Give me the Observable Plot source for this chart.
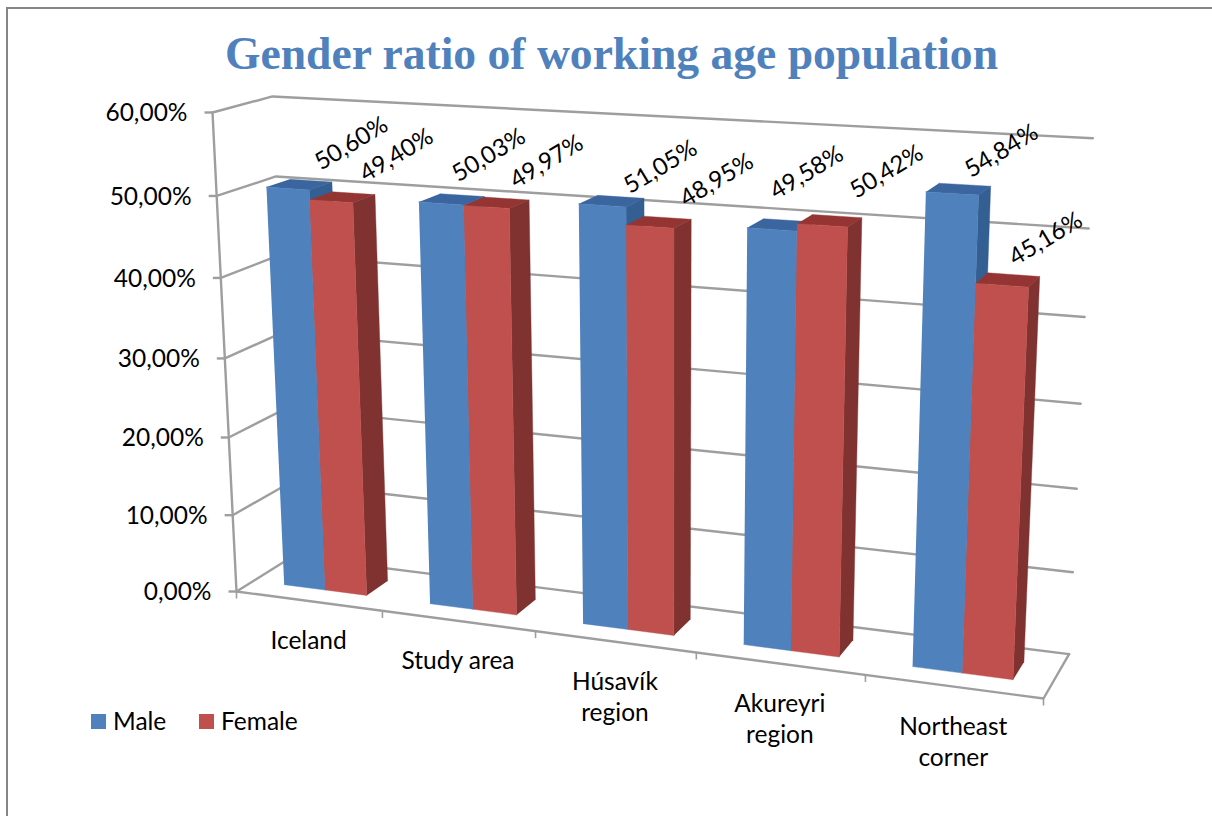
<!DOCTYPE html>
<html><head><meta charset="utf-8">
<script src="https://cdn.jsdelivr.net/npm/d3@7"></script>
<script src="https://cdn.jsdelivr.net/npm/@observablehq/plot@0.6"></script>
<style>
html,body{margin:0;padding:0;background:#fff;overflow:hidden;width:1212px;height:816px}
#frame{position:absolute;left:6px;top:7px;right:0;bottom:0;border-left:2px solid #868686;border-top:2px solid #868686;box-sizing:border-box}
#title{position:absolute;left:0;width:1223px;top:24px;text-align:center;font:bold 45.6px "Liberation Serif",serif;color:#4F81BD;line-height:60px}
#chart{position:absolute;left:0;top:84px}
#legend{position:absolute;left:91px;top:704px;font:24.5px Lato,sans-serif;color:#000;line-height:34px;height:34px;white-space:nowrap}
#legend i{position:absolute;top:10px;width:15px;height:15px}
#legend span{position:absolute;top:0}
</style></head><body>
<div id="frame"></div>
<div id="title">Gender ratio of working age population</div>
<div id="chart"></div>
<div id="legend"></div>
<script>
const categories = ["Iceland","Study area","Húsavík\nregion","Akureyri\nregion","Northeast\ncorner"];
const male = [50.60,50.03,51.05,49.58,54.84];
const female = [49.40,49.97,48.95,50.42,45.16];
const valueTicks = [0,10,20,30,40,50,60];
const seriesNames = ["Male","Female"];
const frontColors = ["#4F81BD","#C0504D"];
const sideColors = ["#335F92","#7F3230"];
const topColors = ["#3A659E","#953533"];
// hand placement of the rotated data labels, as in the original chart (male/female per category)
const labelNudgeX = [[2,4],[-13,0],[-1,8],[-23,7],[-7,-12]];
const labelNudgeY = [[1,0],[-2,1],[8,0],[-10,-7],[4,1]];

// perspective camera of the 3-D box: corners of the box on the page
const P000=[236,591],P100=[1043,698],P010=[212,112],P001=[292,556];
const wa=-0.117,wb=-0.0523,wc=0.043;
function project(u,value,d){
  const v=value/60, w=1+wa*u+wb*v+wc*d;
  const f=i=>(P000[i]+u*((1+wa)*P100[i]-P000[i])+v*((1+wb)*P010[i]-P000[i])+d*((1+wc)*P001[i]-P000[i]))/w;
  return [f(0),f(1)];
}
const n=categories.length, catW=1/n, gap=1.5, barW=catW/(2+gap), depth0=0.3, depth1=0.7;

const polys=[];
function poly(id,color,pts){pts.forEach(p=>{const [x,y]=project(...p);polys.push({id,color,x,y});});}
categories.forEach((c,i)=>{
  [male[i],female[i]].forEach((val,s)=>{
    const a=i*catW+catW*gap/(2+gap)/2+s*barW, b=a+barW;
    const id=i+"-"+s;
    poly(id+"t",topColors[s],[[a,val,depth0],[b,val,depth0],[b,val,depth1],[a,val,depth1]]);
    poly(id+"s",sideColors[s],[[b,0,depth0],[b,val,depth0],[b,val,depth1],[b,0,depth1]]);
    poly(id+"f",frontColors[s],[[a,0,depth0],[b,0,depth0],[b,val,depth0],[a,val,depth0]]);
  });
});

const walls=[];
valueTicks.forEach(v=>{
  const a=project(0,v,0),b=project(0,v,1),c=project(1,v,1);
  walls.push({id:"g"+v,x:a[0],y:a[1]},{id:"g"+v,x:b[0],y:b[1]},{id:"g"+v,x:c[0],y:c[1]});
});
[[0,0,0],[0,60,0]].forEach(p=>{const q=project(...p);walls.push({id:"axisY",x:q[0],y:q[1]});});
[[0,0,0],[1,0,0],[1,0,1]].forEach(p=>{const q=project(...p);walls.push({id:"floor",x:q[0],y:q[1]});});

const yTicks=valueTicks.map(v=>{const [x,y]=project(0,v,0);return {v,x,y,label:v.toFixed(2).replace(".",",")+"%"};});
const xTicks=d3.range(n+1).map(i=>{const [x,y]=project(i*catW,0,0);return {x,y};});
const catLabels=categories.map((c,i)=>{const [x,y]=project((i+.5)*catW,0,0);return {c,x,y};});
const dataLabels=[];
categories.forEach((c,i)=>{
  [male[i],female[i]].forEach((val,s)=>{
    const u=i*catW+catW*gap/(2+gap)/2+(s+.5)*barW;
    const [x,y]=project(u,val,.5);
    dataLabels.push({x:x+labelNudgeX[i][s],y:y+labelNudgeY[i][s],label:val.toFixed(2).replace(".",",")+"%"});
  });
});
const font="Lato, sans-serif", gridColor="#9E9E9E";
const plot=Plot.plot({
  width:1212,height:732,margin:0,
  style:{background:"transparent",fontFamily:font,color:"#000"},
  x:{domain:[0,1212],range:[0,1212],axis:null},
  y:{domain:[84,816],range:[0,732],axis:null},
  color:{type:"identity"},
  marks:[
    Plot.line(walls,{x:"x",y:"y",z:"id",stroke:gridColor,strokeWidth:2.4}),
    Plot.link(yTicks,{x1:"x",y1:"y",x2:d=>d.x-8,y2:"y",stroke:gridColor,strokeWidth:2.4}),
    Plot.link(xTicks,{x1:"x",y1:"y",x2:"x",y2:d=>d.y+7,stroke:gridColor,strokeWidth:1.6}),
    Plot.line(polys,{x:"x",y:"y",z:"id",fill:"color",stroke:"color",strokeWidth:.4}),
    Plot.text(yTicks,{x:"x",y:"y",text:"label",textAnchor:"end",dx:-25,dy:1,fontSize:24.5,fill:"#000"}),
    Plot.text(catLabels,{x:"x",y:"y",text:"c",lineAnchor:"top",dy:26,lineHeight:1.28,fontSize:24.5,fill:"#000"}),
    Plot.text(dataLabels,{x:"x",y:"y",text:"label",rotate:-31,dx:50,dy:-42,fontSize:24,fill:"#000"})
  ]
});
document.getElementById("chart").appendChild(plot);
const lg=document.getElementById("legend");
[0,108].forEach((off,k)=>{
  const sw=document.createElement("i");sw.style.left=off+"px";sw.style.background=frontColors[k];lg.appendChild(sw);
  const t=document.createElement("span");t.style.left=(off+22)+"px";t.textContent=seriesNames[k];lg.appendChild(t);
});
</script>
</body></html>
